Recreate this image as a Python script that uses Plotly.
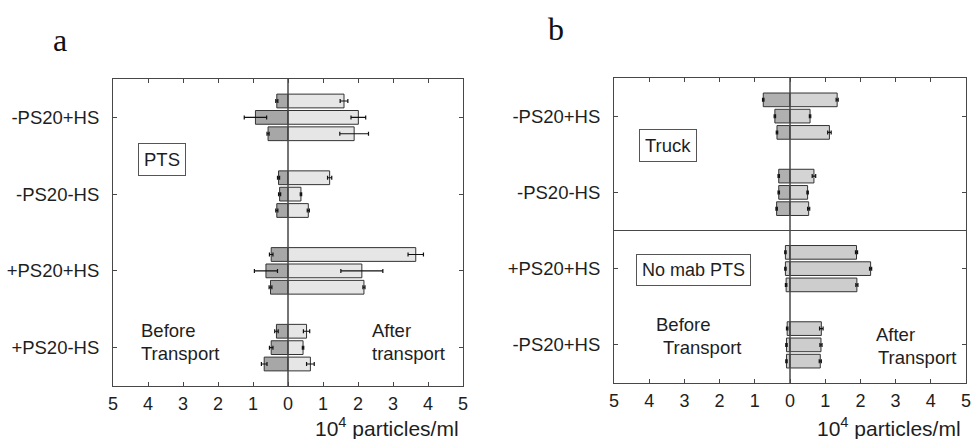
import plotly.graph_objects as go

# ---------------- data (units: 10^4 particles/ml) ----------------
groups_a = ["-PS20+HS", "-PS20-HS", "+PS20+HS", "+PS20-HS"]
before_a = [[0.32, 0.93, 0.57], [0.27, 0.24, 0.32], [0.48, 0.63, 0.50], [0.33, 0.48, 0.68]]
before_a_err = [[0.03, 0.32, 0.03], [0.03, 0.03, 0.03], [0.05, 0.33, 0.04], [0.05, 0.05, 0.08]]
after_a = [[1.60, 2.01, 1.89], [1.19, 0.37, 0.58], [3.65, 2.11, 2.17], [0.53, 0.43, 0.64]]
after_a_err = [[0.11, 0.21, 0.41], [0.06, 0.02, 0.03], [0.22, 0.60, 0.03], [0.09, 0.02, 0.11]]

groups_b = ["-PS20+HS", "-PS20-HS", "+PS20+HS", "-PS20+HS"]
before_b = [[0.76, 0.43, 0.37], [0.32, 0.32, 0.38], [0.13, 0.13, 0.11], [0.08, 0.10, 0.10]]
before_b_err = [[0.02, 0.02, 0.02], [0.02, 0.02, 0.02], [0.02, 0.02, 0.02], [0.02, 0.02, 0.02]]
after_b = [[1.34, 0.57, 1.12], [0.68, 0.50, 0.53], [1.89, 2.29, 1.90], [0.89, 0.88, 0.86]]
after_b_err = [[0.03, 0.02, 0.05], [0.05, 0.02, 0.03], [0.03, 0.03, 0.03], [0.05, 0.03, 0.03]]

x_ticks = [-5, -4, -3, -2, -1, 0, 1, 2, 3, 4, 5]

# ---------------- styles ----------------
W, H = 971, 439
FONT = "Liberation Sans, Arial, sans-serif"
TXT = "#1e1e1e"
AX = "#474747"
colors_a_before = ["#a7a7a7"] * 4
colors_a_after = ["#e6e6e6"] * 4
colors_b_before = ["#b0b0b0", "#b0b0b0", "#cdcdcd", "#cdcdcd"]
colors_b_after = ["#d4d4d4", "#d4d4d4", "#cdcdcd", "#cdcdcd"]


def px(x):
    return x / W


def py(y):
    return 1 - y / H


fig = go.Figure()


def add_panel(groups, before, before_err, after, after_err, cb, ca, xa, ya):
    pos = list(range(len(groups)))
    for j in range(3):
        fig.add_trace(go.Bar(
            orientation="h", y=pos, x=[-before[g][j] for g in pos],
            offsetgroup=str(j), xaxis=xa, yaxis=ya, showlegend=False,
            marker=dict(color=cb, line=dict(color="#333333", width=1)),
            error_x=dict(type="data", array=[before_err[g][j] for g in pos],
                         color="#111111", thickness=1.2, width=2),
        ))
        fig.add_trace(go.Bar(
            orientation="h", y=pos, x=[after[g][j] for g in pos],
            offsetgroup=str(j), xaxis=xa, yaxis=ya, showlegend=False,
            marker=dict(color=ca, line=dict(color="#333333", width=1)),
            error_x=dict(type="data", array=[after_err[g][j] for g in pos],
                         color="#111111", thickness=1.2, width=2),
        ))
    return pos


pos_a = add_panel(groups_a, before_a, before_a_err, after_a, after_a_err,
                  colors_a_before, colors_a_after, "x", "y")
pos_b = add_panel(groups_b, before_b, before_b_err, after_b, after_b_err,
                  colors_b_before, colors_b_after, "x2", "y2")

xcommon = dict(range=[-5, 5], tickvals=x_ticks, ticktext=[str(abs(v)) for v in x_ticks],
               ticks="inside", ticklen=4, tickcolor=AX, mirror="ticks", showline=True,
               linecolor=AX, linewidth=1, showgrid=False, zeroline=False, automargin=False,
               ticklabeloverflow="allow",
               tickfont=dict(family=FONT, size=18, color=TXT), ticklabelstandoff=1)
ycommon = dict(range=[3.5, -0.5], ticks="inside", ticklen=4, tickcolor=AX, mirror="ticks",
               showline=True, linecolor=AX, linewidth=1, showgrid=False, zeroline=False,
               automargin=False,
               tickfont=dict(family=FONT, size=18.5, color=TXT), ticklabelstandoff=9)

fig.update_layout(
    width=W, height=H, margin=dict(l=0, r=0, t=0, b=0),
    paper_bgcolor="white", plot_bgcolor="white",
    barmode="group", bargap=0.36, bargroupgap=0.16,
    xaxis=dict(domain=[px(113), px(463)], anchor="y", **xcommon),
    yaxis=dict(domain=[py(386), py(79)], anchor="x", tickvals=pos_a, ticktext=groups_a, **ycommon),
    xaxis2=dict(domain=[px(614), px(966)], anchor="y2", **xcommon),
    yaxis2=dict(domain=[py(383), py(78)], anchor="x2", tickvals=pos_b, ticktext=groups_b, **ycommon),
)

# zero lines and panel-b separator
fig.add_shape(type="line", xref="x", yref="y domain", x0=0, x1=0, y0=0, y1=1,
              line=dict(color=AX, width=1.5), layer="above")
fig.add_shape(type="line", xref="x2", yref="y2 domain", x0=0, x1=0, y0=0, y1=1,
              line=dict(color=AX, width=1.5), layer="above")
sep = (pos_b[1] + pos_b[2]) / 2
fig.add_shape(type="line", xref="x2 domain", yref="y2", x0=0, x1=1, y0=sep, y1=sep,
              line=dict(color=AX, width=1), layer="above")


def note(text, x, y, xanchor="left", box=False, size=18.5):
    kw = dict(text=text, xref="paper", yref="paper", x=px(x), y=py(y), xanchor=xanchor,
              yanchor="middle", showarrow=False, font=dict(family=FONT, size=size, color=TXT),
              align="left")
    if box:
        kw.update(bordercolor="#555555", borderwidth=1, borderpad=5, bgcolor="white")
    fig.add_annotation(**kw)


# panel labels
fig.add_annotation(text="a", xref="paper", yref="paper", x=px(60), y=py(40), xanchor="center",
                   yanchor="middle", showarrow=False,
                   font=dict(family="Liberation Serif, Times New Roman, serif", size=32, color="#111"))
fig.add_annotation(text="b", xref="paper", yref="paper", x=px(556), y=py(29), xanchor="center",
                   yanchor="middle", showarrow=False,
                   font=dict(family="Liberation Serif, Times New Roman, serif", size=32, color="#111"))

# boxes
note("PTS", 162, 159, xanchor="center", box=True)
note("Truck", 668, 145, xanchor="center", box=True)
note("No mab PTS", 693, 270, xanchor="center", box=True, size=18)

# panel a labels
note("Before", 139, 330)
note("Transport", 139, 353)
note("After", 370, 330)
note("transport", 370, 353)
# panel b labels
note("Before", 654, 324)
note("Transport", 661, 347)
note("After", 874, 334)
note("Transport", 876, 357)

# x-axis titles
note("10<sup>4</sup> particles/ml", 387, 427, xanchor="center", size=21)
note("10<sup>4</sup> particles/ml", 889, 427, xanchor="center", size=21)

fig.write_html(
    "out.html",
    config={"displayModeBar": False},
    post_script="document.body.style.margin='0';"
                "document.documentElement.style.overflow='hidden';"
                "document.body.style.overflow='hidden';",
)
